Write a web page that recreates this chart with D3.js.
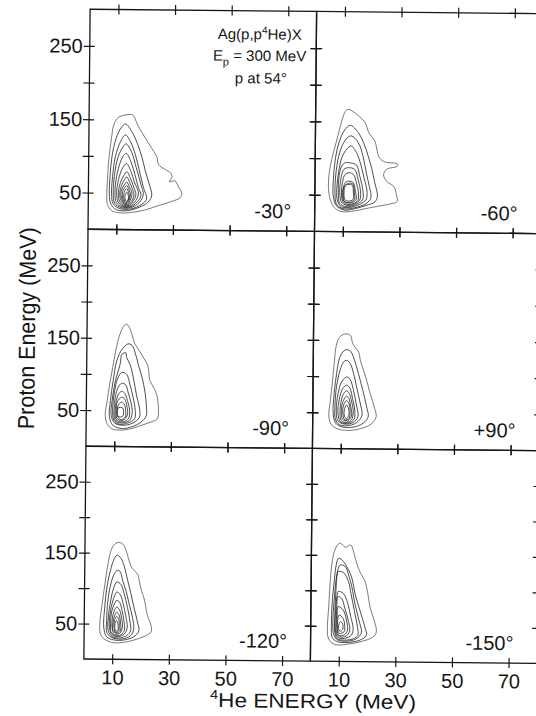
<!DOCTYPE html>
<html><head><meta charset="utf-8">
<script src="https://cdn.jsdelivr.net/npm/d3@7"></script>
<style>
body{margin:0;background:#fff}
svg{display:block}
text{font-family:"Liberation Sans",Arial,Helvetica,sans-serif;fill:#151515}
</style>
</head><body>
<svg id="chart" width="536" height="716"></svg>
<script>
// ---- data ----
const xTicks = [10, 30, 50, 70];
const yTicks = [50, 100, 150, 200, 250];
const yTickLabels = [50, 150, 250];
const panelAngles = ["-30°", "-60°", "-90°", "+90°", "-120°", "-150°"];
const xLabel = "He ENERGY (MeV)";
const yLabel = "Proton Energy (MeV)";
const reaction = ["Ag(p,p", "4", "He)X"];
const beam = ["E", "p", " = 300 MeV"];
const protonAngle = "p at 54°";

// contour lines: [4He energy (MeV), proton energy (MeV)]
const contoursM30 = [
  [[14.1,157],[15.5,156],[17.4,141],[19.8,126],[22.1,112],[24.1,99],[24.7,89],[27.3,82],[29,78],[29.5,72],[28.6,66],[30.6,67],[31.8,59],[33,50],[32.4,44],[29.4,39],[24.7,33],[20,27],[15.3,23.5],[10.6,23],[8.2,26],[6.8,34],[6.5,47],[6.7,67],[7.1,95],[7.9,122],[8.8,143],[10.4,153]],
  [[12.9,144],[15.1,134],[17.1,118],[18.8,99],[20,81],[21.4,63],[22.4,47],[21.2,38],[18.2,31],[14.1,26],[10,27],[8,34.5],[7.4,49],[7.6,72],[8.2,99],[9.6,124],[11.4,139]],
  [[12.9,129],[14.7,120],[16.5,102],[17.9,81],[19.4,58],[20.6,42],[18.8,34.5],[15.3,28.5],[11.2,28.5],[8.8,35],[8.2,49],[8.5,72],[9.4,99],[11.2,120]],
  [[13.2,117],[15.2,105],[16.8,85],[18.5,62],[19.4,48],[18,37],[15,30],[11.5,30],[9.3,36],[8.8,50],[9.2,75],[10.3,98],[11.8,111]],
  [[13.3,104],[15,92],[16.4,75],[17.6,58],[18.6,47],[17.3,38],[14.8,31],[12,31],[9.9,37],[9.4,50],[9.9,72],[11.2,92],[12.3,101]],
  [[13.4,90],[15,79],[16.2,65],[17.7,50],[16.8,40],[14.6,32],[12.3,32],[10.5,38],[10,50],[10.6,68],[12,84]],
  [[13.5,79],[14.8,70],[16,58],[16.8,48],[16,40],[14.4,33],[12.5,33],[11,39],[10.6,50],[11.3,64],[12.5,74]],
  [[13.5,72],[14.6,64],[15.6,55],[16.1,47],[15.5,40],[14.2,34],[12.7,34],[11.5,40],[11.1,50],[11.8,61],[12.7,68]],
  [[13.5,65],[14.5,58],[15.4,50],[15,42],[14,35],[12.8,35],[11.9,41],[11.5,50],[12.2,58],[12.9,62]],
  [[13.5,60],[14.4,54],[14.9,48],[14.6,42],[13.8,36],[12.9,36],[12.2,42],[12,50],[12.6,56]],
  [[13.5,56],[14.2,51],[14.5,46],[14.2,41],[13.6,37],[13,37.5],[12.6,42],[12.5,48],[12.9,53]],
  [[13.6,51],[14.1,47],[14.2,43],[13.9,40],[13.5,38.5],[13.1,40],[12.9,44],[13.1,48]]
];
const contoursM60 = [
  [[11.7,167],[14.6,160],[17.5,149],[18.9,135],[21,124],[21.9,110],[22.7,101],[24.7,95.5],[29.1,93],[28.8,89.5],[25.4,86],[24.2,78],[25.4,69],[27.9,62],[28.8,51],[29.1,42],[26.8,38.6],[22.1,35],[17.5,31.4],[12.9,27.7],[9.2,27.7],[6.9,32.7],[5.6,42],[4.8,58],[5,80],[6,101],[7.3,121],[8.5,139.5],[9.8,158],[10.8,165.5]],
  [[12.3,145],[15.2,135],[17.5,117],[18.9,101],[20.1,85],[21,69],[22.1,48.6],[21.2,41],[18.1,36],[14,31.4],[10.6,29.5],[7.7,35],[6.5,48.6],[6.5,71],[7.1,98.6],[8.3,121],[10.3,138.6]],
  [[12.9,130.5],[15.2,121.4],[16.9,103],[18.1,80.5],[19.2,62],[19.8,46.4],[18.1,38.6],[14,32.7],[10,31.4],[7.7,37.3],[7.1,53],[7.3,76],[8.3,103],[10,121.4],[11.7,129.5]],
  [[12.7,117],[14.6,107.7],[16.1,92],[17.3,73.6],[18.4,55.5],[18.1,44],[15.8,37.3],[12.3,33.2],[9.4,34],[8,41.8],[7.7,57.7],[8.3,80.5],[9.4,101],[11.2,113]],
  [[12.3,94],[14.6,91],[15.8,76],[16.9,57.7],[16.9,44],[14.6,37.3],[11.2,34],[8.8,38.6],[8.3,53],[8.5,76],[9.4,89.5],[10.6,94]],
  [[11.7,87.3],[14,85],[15.2,71.4],[16.1,55.5],[15.9,44],[13.8,37.7],[11.2,36],[9.4,40.5],[8.8,53],[9.2,73.6],[10.2,85]],
  [[12,80.5],[13.6,78],[14.6,67],[15.4,53],[15.2,42.7],[13.5,38.2],[11.2,37.3],[9.8,41.8],[9.4,53],[9.8,69],[10.6,78]],
  [[12,69],[13.5,67],[14.3,55.5],[14.6,44],[12.9,39.5],[10.6,40.5],[10,51],[10.2,62.3],[10.9,67.7]],
  [[11.8,66],[13.4,65],[13.9,54],[14,44],[12.4,40],[10.3,41.5],[9.8,52],[10.2,61]],
  [[11.7,64.5],[13.2,63.2],[13.6,53],[13.5,44],[11.7,41.8],[10.6,44],[10.3,54],[10.7,62.3]]
];
const contoursM90 = [
  [[13.9,169.4],[14.9,164.8],[15.9,154.8],[16.8,143.4],[18.5,133],[20.2,122],[21.5,113],[22,102.4],[22.2,93.3],[23.6,82.8],[24.8,72.8],[25.3,61.4],[25.5,50],[25.1,38.6],[22.7,34.1],[19.4,29.5],[15.9,24.9],[12.1,22.7],[8.8,24.9],[7.1,34.1],[6.7,45.4],[7.4,63.7],[8.2,86.4],[9.2,109.2],[10.2,132],[11.4,152.5],[12.7,164.8]],
  [[14.5,142],[15.9,140.2],[17.1,129.7],[18.2,113.8],[19.6,95.6],[20.6,77.3],[21.2,56.8],[21.2,43.2],[19.4,34.1],[15.9,27.2],[12.4,24.9],[9.4,29.5],[8.2,40.9],[8.5,63.7],[9.4,91],[10.6,118.3],[12.4,134.3]],
  [[13.8,129.7],[14.1,122.9],[15.3,113.8],[16.5,95.6],[17.6,72.8],[18.8,52.3],[18.8,40.9],[16.5,32.7],[12.9,29.5],[10,32.7],[8.8,43.2],[9.1,63.7],[10.2,91],[11.8,113.8],[12.4,127.5]],
  [[12.4,102.4],[14.1,100.1],[15.3,86.4],[16.5,68.2],[17.3,50],[17.1,38.6],[14.7,32.7],[11.8,30.9],[9.8,36.3],[9.3,50],[9.8,72.8],[10.9,93.3]],
  [[12.4,87.4],[13.8,85.5],[14.7,75.1],[15.9,59.1],[16.2,45.4],[15.3,36.3],[12.4,32.7],[10.2,36.3],[9.8,50],[10.2,68.2],[11.2,81.9]],
  [[12.4,76.4],[13.5,73.7],[14.5,63.7],[15.3,50],[14.9,38.6],[12.6,34.1],[10.6,37.2],[10.2,50],[10.6,63.7],[11.4,72.8]],
  [[12.4,68.2],[13.5,65.9],[14.4,54.6],[14.5,43.2],[12.9,36.3],[10.9,38.6],[10.6,50],[10.9,61.4]],
  [[12.4,61.4],[13.3,59.1],[13.9,50],[13.8,40.9],[12.4,37.3],[11.2,40.9],[10.9,50.9],[11.4,58.2]],
  [[11.2,53.2],[12.9,53.2],[12.9,41.8],[11.2,41.8]]
];
const contoursP90 = [
  [[11.3,158.7],[13.1,156.4],[13.9,145],[16,133.6],[16.7,121.2],[17.9,107.5],[19,93.8],[20.2,76.5],[21.7,58.2],[22.4,44.5],[20.7,34.5],[16.6,27.6],[12.5,25.3],[8.9,27.2],[6.6,33.1],[5.7,44.5],[6.2,67.4],[6.9,94.7],[7.5,122.1],[8.1,142.7],[9.2,154.1]],
  [[11.3,136.8],[13.1,134.9],[14.6,122.1],[16,103.9],[17.6,81],[19,58.2],[19.6,44.5],[17.8,35.4],[14.3,29.9],[10.7,29.9],[8.1,35.4],[7.2,49.1],[7.5,76.5],[8.3,103.9],[9.5,127.6]],
  [[11.9,122.1],[13.1,117.6],[14.3,103.9],[15.4,85.6],[16.6,65.1],[17.4,46.8],[16,37.7],[13.1,32.2],[9.5,33.1],[8,40.9],[7.8,58.2],[8.3,85.6],[9.5,108.4],[10.7,119.9]],
  [[11.9,99.3],[13.1,95.7],[14.3,81],[15.4,60.5],[16,44.5],[14.3,36.3],[11.3,34],[8.9,38.6],[8.3,53.7],[8.9,76.5],[10.1,92.5]],
  [[11.9,87.9],[13.1,83.3],[14,69.6],[14.8,53.7],[14.6,40.9],[12.5,35.4],[9.9,36.8],[8.9,49.1],[9.3,67.4],[10.5,83.3]],
  [[11.9,80.1],[12.8,76.5],[13.7,65.1],[14.3,51.4],[13.7,40],[11.9,36.3],[10.1,39],[9.6,51.4],[10.1,67.4],[10.9,76.5]],
  [[11.9,72.8],[12.7,69.6],[13.4,58.2],[13.7,45.4],[12.2,38.6],[10.5,40.9],[10.1,51.4],[10.5,63.7]],
  [[11.9,66.4],[12.7,62.8],[13.2,51.4],[12.7,40.9],[11.3,40],[10.6,49.1],[10.9,60.5]],
  [[11.9,60.5],[12.5,56.8],[12.8,47.7],[11.9,41.3],[11.1,46.8],[11.3,55.9]]
];
const contoursM120 = [
  [[11.7,164.9],[13.4,162.5],[14.6,153.1],[15.4,142.2],[16.6,129.4],[18.7,120],[19.4,109.1],[20.1,97.3],[21.1,85.5],[21.7,73.6],[22.3,61.8],[23.4,50.9],[23.7,39.6],[21.7,33.5],[17.5,27.3],[14,24],[10.5,23.5],[7.5,27.3],[5.8,34.9],[5.5,50],[6.2,76],[7.2,106.7],[8.1,132.7],[9.1,151.7],[10.2,161.1]],
  [[11.4,146.9],[12.8,142.2],[14,130.4],[15.2,111.5],[16.4,92.6],[17.5,73.6],[18.7,54.7],[19.3,40.5],[17.5,32],[14,27.3],[10.5,27.3],[7.9,32],[6.9,45.3],[7.2,73.6],[7.9,102],[9.1,125.7],[10.2,139.8]],
  [[11.7,125.7],[12.6,123.3],[13.4,111.5],[14.6,97.3],[15.8,78.4],[17,59.5],[17.5,42.9],[16.4,33.5],[13.4,28.7],[10.2,30.1],[8.1,36.8],[7.9,54.7],[8.3,83.1],[9.3,106.7],[10.5,120.9]],
  [[11.4,109.1],[12.8,105.8],[14,92.6],[15.2,73.6],[16.1,54.7],[16.4,40.5],[15,33.5],[12.2,30.1],[9.9,32],[8.5,40.5],[8.5,59.5],[9.3,83.1],[10.2,99.6]],
  [[11.4,94.9],[12.6,91.6],[13.7,78.4],[14.6,61.8],[15.2,45.3],[14.2,35.8],[11.9,32],[9.9,34.4],[8.9,45.3],[9.1,64.2],[9.9,80.7],[10.7,90.2]],
  [[11.4,83.1],[12.4,80.7],[13.3,68.9],[14,54.7],[14.2,41.5],[13.1,34.9],[11.1,33.5],[9.5,38.2],[9.3,50],[9.6,66.5],[10.5,77.4]],
  [[11.4,73.6],[12.4,69.9],[13.1,59.5],[13.5,45.3],[12.6,36.8],[10.7,35.8],[9.9,42.9],[9.9,57.1],[10.5,68]],
  [[11.4,66.5],[12.2,63.2],[12.8,52.4],[12.8,40.5],[11.7,36.8],[10.2,40.5],[10.2,52.4],[10.7,61.8]],
  [[11.4,60.4],[12.1,57.1],[12.4,47.6],[12.1,39.6],[11.1,38.2],[10.5,45.3],[10.7,54.7]],
  [[11.4,54.7],[11.9,50],[11.9,41.5],[11.2,39.6],[10.8,45.3],[10.9,51]]
];
const contoursM150 = [
  [[10.2,166.7],[12,161.1],[13.8,164.4],[15,153.5],[16.1,137.5],[17.4,125.3],[19.1,112.6],[19.7,103.2],[20.3,90.5],[21,74.9],[22.4,58.5],[23.2,42],[22,34.9],[17.9,28.4],[13.2,24.6],[9.6,23.2],[7.3,26.5],[6.1,34.9],[5.9,49.1],[6.3,77.3],[6.7,110.2],[7.3,138.5],[8.2,156.4],[9.4,165.3]],
  [[9.6,145.5],[10.8,143.2],[13.2,129.1],[14.6,114.9],[15.5,96.1],[17.3,72.6],[19.1,49.1],[19.7,37.3],[17.3,30.2],[13.2,26.9],[9.4,27.9],[7.6,34],[7.3,49.1],[7.5,82],[8.2,114.9],[8.8,136.1]],
  [[10.2,136.1],[12,133.8],[13.2,122],[14.4,105.5],[15.5,82],[17,58.5],[17.9,40.6],[16.1,32.1],[13,28.8],[9.6,30.2],[8.2,37.3],[7.8,52.9],[8.2,86.7],[8.8,114.9],[9.4,129.1]],
  [[9.6,126.7],[11.4,125.3],[13.2,112.6],[14.1,96.1],[15.3,72.6],[16.5,49.1],[16.7,37.3],[15,32.1],[12,30.2],[9.4,32.1],[8.5,42],[8.5,67.9],[8.8,100.8],[9.1,119.6]],
  [[9.6,98.5],[11.4,96.1],[13,82],[14.1,63.2],[15,46.7],[14.4,37.3],[12,32.6],[9.6,34],[8.7,44.4],[8.7,67.9],[9.1,89.1]],
  [[9.4,91.4],[10.8,89.1],[12,74.9],[13.2,58.5],[13.8,44.4],[12.6,35.9],[10.2,34.9],[9.1,42],[9.1,67.9],[9.2,84.4]],
  [[9.6,77.3],[11.4,72.6],[12.6,58.5],[13,44.4],[11.8,37.3],[9.9,37.3],[9.3,46.7],[9.3,65.5]],
  [[10,65.5],[11.4,60.8],[12,50.4],[11.8,42],[10.2,39.6],[9.5,46.7],[9.5,58.5]],
  [[10.4,56.1],[11.2,53.8],[11.3,45.3],[10.4,42.5],[9.8,48.1]]
];
const panelContours = [contoursM30, contoursM60, contoursM90, contoursP90, contoursM120, contoursM150];

// ---- layout ----
const xDomain = [0, 80], yDomain = [0, 300];
const colX = [[87, 313.5], [313.5, 540]];
const rowY = [[11.4, 231.4], [231.4, 448.4], [448.4, 661.2]];
const ink = "#161616";
const scanTilt = 0.55; // the reference scan is slightly rotated

const svg = d3.select("#chart");
const root = svg.append("g").attr("transform", `rotate(${scanTilt},313,336)`);

panelContours.forEach((contours, i) => {
  const col = i % 2, row = Math.floor(i / 2);
  const x = d3.scaleLinear().domain(xDomain).range(colX[col]);
  const y = d3.scaleLinear().domain(yDomain).range([rowY[row][1], rowY[row][0]]);
  const g = root.append("g");

  // contours
  const line = d3.line().x(d => x(d[0])).y(d => y(d[1]))
    .curve(d3.curveCatmullRomClosed.alpha(0.5));
  g.selectAll("path.contour").data(contours).join("path")
    .attr("class", "contour")
    .attr("d", line)
    .attr("fill", "none")
    .attr("stroke", "#222")
    .attr("stroke-width", (d, k) => k === 0 ? 0.6 : 0.8)
    .attr("stroke-linejoin", "round");

  // frame
  g.append("rect")
    .attr("x", x(xDomain[0])).attr("y", y(yDomain[1]))
    .attr("width", x(xDomain[1]) - x(xDomain[0]))
    .attr("height", y(yDomain[0]) - y(yDomain[1]))
    .attr("fill", "none").attr("stroke", ink).attr("stroke-width", 1.3);

  const styleAxis = (sel, inner, attr) => {
    sel.select(".domain").remove();
    sel.selectAll(".tick line").attr(attr, inner).attr("stroke", ink).attr("stroke-width", 1.2);
    sel.selectAll("text").attr("font-size", 20).attr("fill", "#151515")
      .attr("font-family", '"Liberation Sans",Arial,Helvetica,sans-serif');
  };

  // left axis
  const left = g.append("g").attr("transform", `translate(${x(xDomain[0])},0)`)
    .call(d3.axisLeft(y).tickValues(yTicks).tickSize(6).tickPadding(1)
      .tickFormat(d => (col === 0 && yTickLabels.includes(d)) ? d : ""));
  styleAxis(left, 5, "x1");
  // right axis
  const right = g.append("g").attr("transform", `translate(${x(xDomain[1])},0)`)
    .call(d3.axisRight(y).tickValues(yTicks).tickSize(6).tickFormat(""));
  styleAxis(right, -5, "x1");
  // top axis
  const top = g.append("g").attr("transform", `translate(0,${y(yDomain[1])})`)
    .call(d3.axisTop(x).tickValues(xTicks).tickSize(5).tickFormat(""));
  styleAxis(top, 5, "y1");
  // bottom axis
  const bottom = g.append("g").attr("transform", `translate(0,${y(yDomain[0])})`)
    .call(d3.axisBottom(x).tickValues(xTicks).tickSize(5).tickPadding(6)
      .tickFormat(d => row === 2 ? d : ""));
  styleAxis(bottom, -5, "y1");

  // angle label
  g.append("text")
    .attr("x", x(xDomain[1]) - 23.5)
    .attr("y", y(yDomain[0]) - 13)
    .attr("text-anchor", "end")
    .attr("font-size", 20)
    .text(panelAngles[i]);

  if (i === 0) {
    const cx = x(60);
    const t1 = g.append("text").attr("x", cx).attr("y", y(yDomain[1]) + 28.5).attr("text-anchor", "middle").attr("font-size", 15);
    t1.append("tspan").text(reaction[0]);
    t1.append("tspan").attr("font-size", 10).attr("dy", -6).text(reaction[1]);
    t1.append("tspan").attr("dy", 6).text(reaction[2]);
    const t2 = g.append("text").attr("x", cx).attr("y", y(yDomain[1]) + 50).attr("text-anchor", "middle").attr("font-size", 15);
    t2.append("tspan").text(beam[0]);
    t2.append("tspan").attr("font-size", 11).attr("dy", 5).text(beam[1]);
    t2.append("tspan").attr("dy", -5).text(beam[2]);
    g.append("text").attr("x", cx + 1.5).attr("y", y(yDomain[1]) + 72.5).attr("text-anchor", "middle")
      .attr("font-size", 15).text(protonAngle);
  }
});

// axis titles
const xt = root.append("text")
  .attr("transform", "translate(316.5,708) scale(1.13,1)")
  .attr("text-anchor", "middle").attr("font-size", 20);
xt.append("tspan").attr("font-size", 13).attr("dy", -8).text("4");
xt.append("tspan").attr("dy", 8).text(xLabel);

root.append("text")
  .attr("transform", "translate(35,331) rotate(-90) scale(1.0,1.08)")
  .attr("text-anchor", "middle").attr("font-size", 21.5)
  .text(yLabel);
</script>
</body></html>
